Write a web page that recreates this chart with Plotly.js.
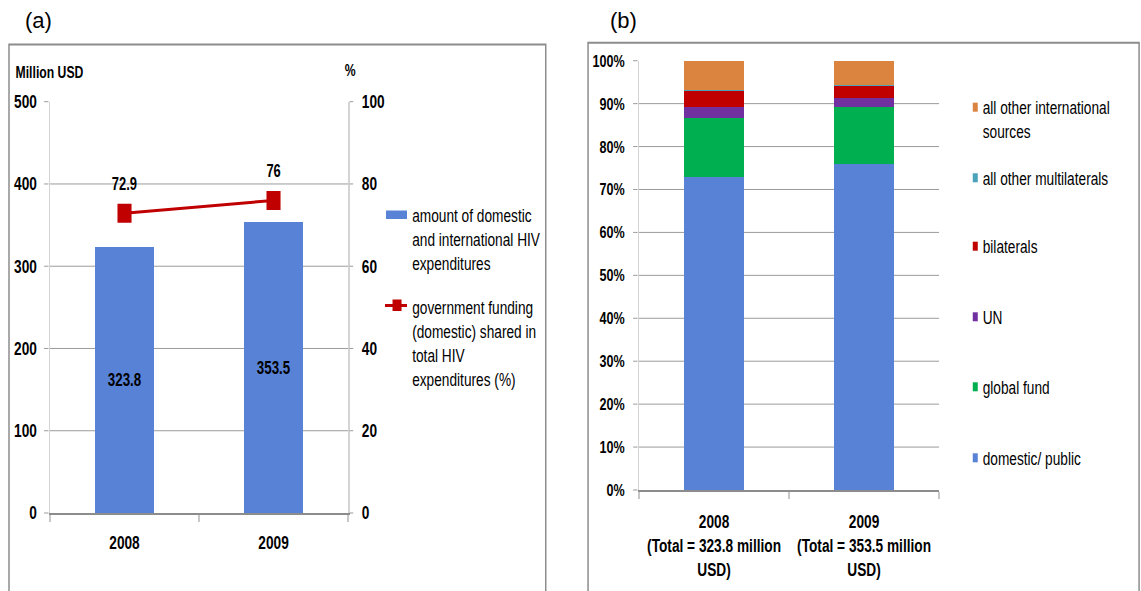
<!DOCTYPE html>
<html>
<head>
<meta charset="utf-8">
<script src="https://cdn.plot.ly/plotly-3.0.1.min.js"></script>
<style>
  html, body { margin: 0; padding: 0; background: #fff; overflow: hidden; }
  #wrap { position: relative; width: 1141px; height: 591px; overflow: hidden; }
  /* the chart is laid out wide and squeezed horizontally to get the narrow lettering */
  #chart { position: absolute; left: 0; top: 0; width: 1542px; height: 591px;
           transform: scaleX(0.74); transform-origin: 0 0; }
  .tag { position: absolute; top: 10px; font-family: "Liberation Sans", Arial, sans-serif;
         font-size: 22px; line-height: 22px; color: #000; }
</style>
</head>
<body>
<div id="wrap">
  <div id="chart"></div>
  <div class="tag" style="left:25px">(a)</div>
  <div class="tag" style="left:610px">(b)</div>
</div>
<script>
// ---- data ----
const years = ['2008', '2009'];
const totalSpend = [323.8, 353.5];   // million USD
const govShare = [72.9, 76];         // % of total HIV expenditure
const leftNames = [
  'amount of domestic<br>and international HIV<br>expenditures',
  'government funding<br>(domestic) shared in<br>total HIV<br>expenditures (%)'
];
const leftTicks = [0, 100, 200, 300, 400, 500];
const rightTicks = [0, 20, 40, 60, 80, 100];

const sourceNames = ['domestic/ public', 'global fund', 'UN', 'bilaterals',
                     'all other multilaterals', 'all other international<br>sources'];
const domesticPublic = [72.9, 76.0];
const globalFund = [13.7, 13.3];
const unAgencies = [2.5, 1.9];
const bilaterals = [3.9, 3.0];
const otherMultilaterals = [0.1, 0.1];
const otherInternational = [6.9, 5.7];
const shareTicks = [0, 10, 20, 30, 40, 50, 60, 70, 80, 90, 100];
const shareTickText = shareTicks.map(v => v + '%');
const yearTotalLabels = years.map((y, i) => y + '<br>(Total = ' + totalSpend[i] + ' million<br>USD)');

// ---- styling ----
const VW = 1141, H = 591, W = 1542;
const px = x => x / VW;          // visible pixel -> paper x
const py = y => 1 - y / H;       // visible pixel -> paper y
const FONT = '"Liberation Sans", Arial, sans-serif';
const BLUE = '#5882d6', RED = '#c00000';
const sourceColors = ['#5882d6', '#00b050', '#7030a0', '#c00000', '#4aa3b8', '#da8440'];
const GRID = '#8c8c8c', LIGHT = '#d4d4d4';
const LINE_H = 1.3 * 18.5;

const sourceValues = [domesticPublic, globalFund, unAgencies, bilaterals, otherMultilaterals, otherInternational];

const traces = [
  {
    type: 'bar', x: years, y: totalSpend, xaxis: 'x', yaxis: 'y',
    marker: { color: BLUE }, showlegend: false, hoverinfo: 'skip',
    text: totalSpend.map(v => v.toFixed(1)), textposition: 'inside',
    insidetextanchor: 'middle', textangle: 0,
    textfont: { family: FONT, size: 18, color: '#000', weight: 'bold' }
  },
  {
    type: 'scatter', mode: 'lines+markers', x: years, y: govShare, xaxis: 'x', yaxis: 'y2',
    line: { color: RED, width: 3 }, marker: { symbol: 'square', size: 19, color: RED },
    showlegend: false, hoverinfo: 'skip'
  }
];
sourceValues.forEach((vals, i) => {
  traces.push({
    type: 'bar', x: years, y: vals, xaxis: 'x2', yaxis: 'y3', name: sourceNames[i],
    marker: { color: sourceColors[i] }, showlegend: false, hoverinfo: 'skip'
  });
});

const tickFont = { family: FONT, size: 18.5, color: '#000', weight: 'bold' };

const annotations = [
  { text: 'Million USD', xref: 'paper', yref: 'paper', x: px(14), y: py(71.5),
    xanchor: 'left', yanchor: 'middle', showarrow: false,
    font: { family: FONT, size: 16.5, color: '#000', weight: 'bold' } },
  { text: '%', xref: 'paper', yref: 'paper', x: px(350), y: py(70),
    xanchor: 'center', yanchor: 'middle', showarrow: false,
    font: { family: FONT, size: 16.5, color: '#000', weight: 'bold' } }
];
// value labels above the share markers
govShare.forEach((v, i) => {
  annotations.push({ text: String(v), x: i, y: v, xref: 'x', yref: 'y2',
    yshift: 29, showarrow: false,
    font: { family: FONT, size: 17.5, color: '#000', weight: 'bold' } });
});

const shapes = [
  { type: 'rect', xref: 'paper', yref: 'paper', x0: px(9), x1: px(545.7), y0: -0.05, y1: py(44.5),
    line: { color: '#8c8c8c', width: 2 }, fillcolor: 'rgba(0,0,0,0)', layer: 'below' },
  { type: 'rect', xref: 'paper', yref: 'paper', x0: px(588), x1: px(1139), y0: -0.05, y1: py(42.7),
    line: { color: '#8c8c8c', width: 2 }, fillcolor: 'rgba(0,0,0,0)', layer: 'below' }
];

// legend of panel (a)
const leftRows = [215, 307.7];
leftNames.forEach((name, i) => {
  const n = name.split('<br>').length;
  annotations.push({ text: name, xref: 'paper', yref: 'paper', x: px(411),
    y: py(leftRows[i] + (n - 1) * LINE_H / 2), xanchor: 'left', yanchor: 'middle', align: 'left',
    showarrow: false, font: { family: FONT, size: 18.5, color: '#000' } });
});
shapes.push({ type: 'rect', xref: 'paper', yref: 'paper', x0: px(386), x1: px(407),
  y0: py(219), y1: py(210.5), fillcolor: BLUE, line: { width: 0 } });
shapes.push({ type: 'line', xref: 'paper', yref: 'paper', x0: px(385), x1: px(407),
  y0: py(305.5), y1: py(305.5), line: { color: RED, width: 3 } });
shapes.push({ type: 'rect', xref: 'paper', yref: 'paper', x0: px(392.5), x1: px(401.5),
  y0: py(311), y1: py(299.5), fillcolor: RED, line: { width: 0 } });

// legend of panel (b)
const rightRows = [458.3, 387.3, 317.3, 246.7, 178.3, 107.7];
sourceNames.forEach((name, i) => {
  const n = name.split('<br>').length;
  const c = rightRows[i];
  annotations.push({ text: name, xref: 'paper', yref: 'paper', x: px(981),
    y: py(c + (n - 1) * LINE_H / 2), xanchor: 'left', yanchor: 'middle', align: 'left',
    showarrow: false, font: { family: FONT, size: 18.5, color: '#000' } });
  shapes.push({ type: 'rect', xref: 'paper', yref: 'paper', x0: px(972.7), x1: px(977.7),
    y0: py(c + 4), y1: py(c - 5), fillcolor: sourceColors[i], line: { width: 0 } });
});

const layout = {
  width: W, height: H,
  margin: { l: 0, r: 0, t: 0, b: 0, pad: 0 },
  paper_bgcolor: '#fff', plot_bgcolor: 'rgba(0,0,0,0)',
  barmode: 'stack', bargap: 0.6,
  showlegend: false,
  xaxis: {
    domain: [px(50), px(348)], anchor: 'y', type: 'category',
    categoryorder: 'array', categoryarray: years, range: [-0.5, 1.5], autorange: false,
    tickson: 'boundaries', ticks: 'outside', ticklen: 7, tickwidth: 2, tickcolor: '#c8c8c8',
    showline: true, linecolor: GRID, linewidth: 1.5, showgrid: false,
    tickfont: tickFont, tickangle: 0, ticklabelstandoff: 12, fixedrange: true
  },
  yaxis: {
    domain: [py(513), py(101.7)], anchor: 'x', range: [0, 500], autorange: false, tickvals: leftTicks,
    showgrid: true, gridcolor: GRID, gridwidth: 1, zeroline: false,
    showline: true, linecolor: LIGHT, linewidth: 2,
    ticks: 'outside', ticklen: 6, tickcolor: GRID, tickwidth: 1,
    tickfont: tickFont, ticklabelstandoff: 6, fixedrange: true
  },
  yaxis2: {
    overlaying: 'y', side: 'right', anchor: 'x', range: [0, 100], autorange: false, tickvals: rightTicks,
    showgrid: false, zeroline: false, showline: true, linecolor: LIGHT, linewidth: 2,
    ticks: 'outside', ticklen: 5, tickcolor: GRID, tickwidth: 1,
    tickfont: tickFont, ticklabelstandoff: 8, fixedrange: true
  },
  xaxis2: {
    domain: [px(639), px(939)], anchor: 'y3', type: 'category',
    categoryorder: 'array', categoryarray: years, range: [-0.5, 1.5], autorange: false,
    tickvals: years, ticktext: yearTotalLabels, tickangle: 0,
    tickson: 'boundaries', ticks: 'outside', ticklen: 7, tickwidth: 2, tickcolor: '#c8c8c8',
    showline: true, linecolor: GRID, linewidth: 1.5, showgrid: false,
    tickfont: { family: FONT, size: 18.5, color: '#000', weight: 'bold' },
    ticklabelstandoff: 14, fixedrange: true
  },
  yaxis3: {
    domain: [py(490), py(60.7)], anchor: 'x2', range: [0, 100], autorange: false,
    tickvals: shareTicks, ticktext: shareTickText,
    showgrid: true, gridcolor: GRID, gridwidth: 1, zeroline: false,
    showline: true, linecolor: LIGHT, linewidth: 2,
    ticks: 'outside', ticklen: 6, tickcolor: GRID, tickwidth: 1,
    tickfont: { family: FONT, size: 17, color: '#000', weight: 'bold' },
    ticklabelstandoff: 8, fixedrange: true
  },
  annotations: annotations,
  shapes: shapes
};

Plotly.newPlot('chart', traces, layout, { displayModeBar: false, staticPlot: true });
</script>
</body>
</html>
